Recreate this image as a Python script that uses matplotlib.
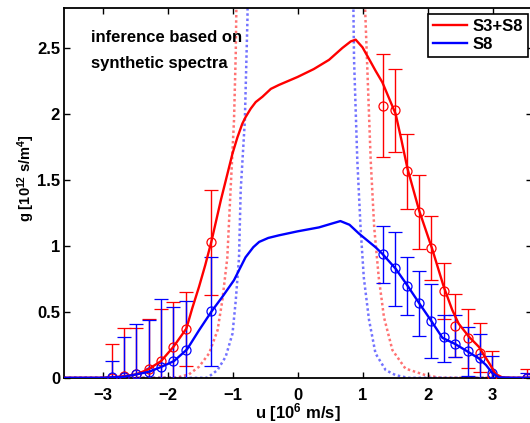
import matplotlib
matplotlib.use("Agg")
import matplotlib.pyplot as plt
import numpy as np

plt.rcParams['font.family'] = ['Liberation Sans', 'DejaVu Sans']
plt.rcParams['font.weight'] = 'bold'
plt.rcParams['font.size'] = 12
plt.rcParams['mathtext.fontset'] = 'custom'
plt.rcParams['mathtext.rm'] = 'Liberation Sans:bold'
plt.rcParams['mathtext.bf'] = 'Liberation Sans:bold'
plt.rcParams['mathtext.default'] = 'bf'

# fitted distributions (solid lines)
u_red_fit = [-3.6, -3.0, -2.86, -2.67, -2.48, -2.30, -2.10, -1.91, -1.71, -1.62, -1.515,
             -1.42, -1.326, -1.18, -1.0, -0.926, -0.85, -0.80, -0.72, -0.643, -0.54, -0.41,
             -0.285, 0.0, 0.25, 0.485, 0.69, 0.82, 0.895, 1.0, 1.1, 1.2, 1.305, 1.51, 1.60,
             1.69, 1.87, 2.07, 2.25, 2.38, 2.48, 2.64, 2.79, 2.95, 3.05, 3.15, 3.3, 3.6]
g_red_fit = [0.0, 0.0, 0.003, 0.012, 0.026, 0.063, 0.126, 0.234, 0.373, 0.526, 0.69,
             0.853, 1.03, 1.345, 1.70, 1.82, 1.925, 1.975, 2.04, 2.09, 2.13, 2.19,
             2.22, 2.28, 2.34, 2.41, 2.50, 2.55, 2.563, 2.505, 2.417, 2.328, 2.24, 2.0, 1.80,
             1.59, 1.27, 0.98, 0.69, 0.515, 0.41, 0.31, 0.235, 0.11, 0.028, 0.003, 0.0, 0.0]

u_blue_fit = [-3.6, -3.0, -2.86, -2.67, -2.48, -2.28, -2.09, -1.9, -1.70, -1.515, -1.32,
              -1.157, -0.977, -0.8, -0.68, -0.59, -0.45, -0.285, 0.0, 0.33, 0.535, 0.66,
              0.8, 0.946, 1.2, 1.305, 1.51, 1.69, 1.87, 2.05, 2.23, 2.43, 2.60, 2.79, 2.90,
              3.0, 3.1, 3.3, 3.6]
g_blue_fit = [0.0, 0.0, 0.003, 0.008, 0.026, 0.046, 0.084, 0.127, 0.215, 0.36, 0.505,
              0.613, 0.74, 0.913, 0.99, 1.03, 1.06, 1.08, 1.11, 1.14, 1.17, 1.188,
              1.16, 1.093, 0.99, 0.94, 0.827, 0.70, 0.567, 0.437, 0.303, 0.255, 0.204, 0.147, 0.097,
              0.034, 0.003, 0.0, 0.0]

# dotted curves
u_red_dot = [-3.6, -1.87, -1.67, -1.515, -1.36, -1.23, -1.157, -1.08, -1.03, -0.977, -0.95,
             -0.93, 1.02, 1.04, 1.07, 1.126, 1.18, 1.25, 1.33, 1.46, 1.66, 1.97, 2.2, 3.6]
g_red_dot = [0.0, 0.0, 0.026, 0.084, 0.185, 0.36, 0.585, 0.91, 1.42, 1.95, 2.46,
             3.2, 3.2, 2.8, 2.4, 1.65, 1.14, 0.76, 0.46, 0.21, 0.07, 0.02, 0.0, 0.0]

u_blue_dot = [-3.6, -1.4, -1.36, -1.23, -1.105, -1.0, -0.95, -0.9, -0.874, -0.81, -0.77,
              -0.76, 0.85, 0.86, 0.87, 0.92, 0.97, 1.02, 1.1, 1.2, 1.357, 1.51, 1.7, 3.6]
g_blue_dot = [0.0, 0.0, 0.01, 0.059, 0.16, 0.335, 0.585, 0.91, 1.42, 1.95, 2.72,
              3.2, 3.2, 2.8, 2.41, 1.65, 1.14, 0.76, 0.44, 0.185, 0.058, 0.02, 0.0, 0.0]

# inferred points with error bars
u_pts = [-2.86, -2.67, -2.48, -2.29, -2.10, -1.91, -1.71, -1.33,
         1.31, 1.50, 1.69, 1.87, 2.06, 2.25, 2.43, 2.62, 2.80, 2.99, 3.53]

g_red = [0.0, 0.01, 0.026, 0.064, 0.127, 0.234, 0.372, 1.03,
         2.06, 2.03, 1.565, 1.255, 0.985, 0.66, 0.39, 0.30, 0.185, 0.015, 0.0]
red_hi = [0.257, 0.38, 0.38, 0.445, 0.52, 0.575, 0.65, 1.425,
          2.455, 2.34, 1.85, 1.535, 1.225, 0.873, 0.633, 0.525, 0.412, 0.2, 0.07]
red_lo = [-0.257, -0.36, -0.33, -0.32, -0.27, -0.11, 0.09, 0.625,
          1.672, 1.71, 1.277, 0.975, 0.74, 0.443, 0.155, 0.078, 0.045, -0.17, -0.07]

g_blue = [0.003, 0.008, 0.026, 0.046, 0.084, 0.127, 0.211, 0.505,
          0.937, 0.83, 0.698, 0.568, 0.43, 0.306, 0.256, 0.202, 0.147, 0.036, 0.0]
blue_hi = [0.13, 0.31, 0.41, 0.437, 0.598, 0.54, 0.585, 0.916,
           1.15, 1.105, 0.917, 0.81, 0.71, 0.475, 0.476, 0.385, 0.331, 0.162, 0.033]
blue_lo = [-0.12, -0.3, -0.36, -0.35, -0.43, -0.29, -0.16, 0.092,
           0.716, 0.543, 0.475, 0.32, 0.151, 0.121, 0.159, 0.013, -0.04, -0.09, -0.033]

x_ticks = [-3, -2, -1, 0, 1, 2, 3]
y_ticks = [0, 0.5, 1, 1.5, 2, 2.5]
y_ticklabels = ['0', '0.5', '1', '1.5', '2', '2.5']

fig = plt.figure(figsize=(5.3, 4.23), dpi=100)
ax = fig.add_axes([63.5 / 530, 45.2 / 423, 468 / 530, 369.4 / 423])

ax.plot(u_red_dot, g_red_dot, color='red', ls=(0, (1, 1.1)), lw=1.8, alpha=0.55, zorder=1)
ax.plot(u_blue_dot, g_blue_dot, color='blue', ls=(0, (1, 1.1)), lw=1.8, alpha=0.55, zorder=1)

def add_points(g, lo, hi, color):
    g = np.array(g)
    yerr = [g - np.array(lo), np.array(hi) - g]
    ax.errorbar(u_pts, g, yerr=yerr, fmt='o', color=color, mfc='none', ms=6.5,
                mew=0.9, elinewidth=1.0, capsize=5, capthick=1.0, zorder=3)

add_points(g_red, red_lo, red_hi, 'red')
add_points(g_blue, blue_lo, blue_hi, 'blue')

ax.plot(u_red_fit, g_red_fit, color='red', lw=1.7, label='S3+S8', zorder=4)
ax.plot(u_blue_fit, g_blue_fit, color='blue', lw=1.7, label='S8', zorder=4)

ax.set_xlim(-3.6, 3.6)
ax.set_ylim(0, 2.8)
ax.set_xticks(x_ticks)
ax.set_yticks(y_ticks)
ax.set_yticklabels(y_ticklabels)
ax.tick_params(direction='in', top=True, right=True, length=4, width=1)
ax.tick_params(axis='x', pad=7)
ax.tick_params(axis='y', pad=2.5)
for s in ax.spines.values():
    s.set_linewidth(1.3)

ax.set_xlabel('u [10$^6$ m/s]', fontweight='bold', labelpad=-1)
ax.set_ylabel('g [10$^{12}$ s/m$^4$]', fontweight='bold', fontsize=10.5)
ax.yaxis.set_label_coords(-0.056, 0.541)

ax.text(0.0586, 0.910, 'inference based on', transform=ax.transAxes, va='baseline')
ax.text(0.0586, 0.8397, 'synthetic spectra', transform=ax.transAxes, va='baseline')

leg = ax.legend(loc='upper right', bbox_to_anchor=(0.9925, 0.986), borderaxespad=0,
                fancybox=False, framealpha=1, edgecolor='black', handlelength=2.0,
                handletextpad=0.35, borderpad=0.3, labelspacing=0.2)
leg.get_frame().set_linewidth(1.2)

fig.savefig('out.png', dpi=100)
